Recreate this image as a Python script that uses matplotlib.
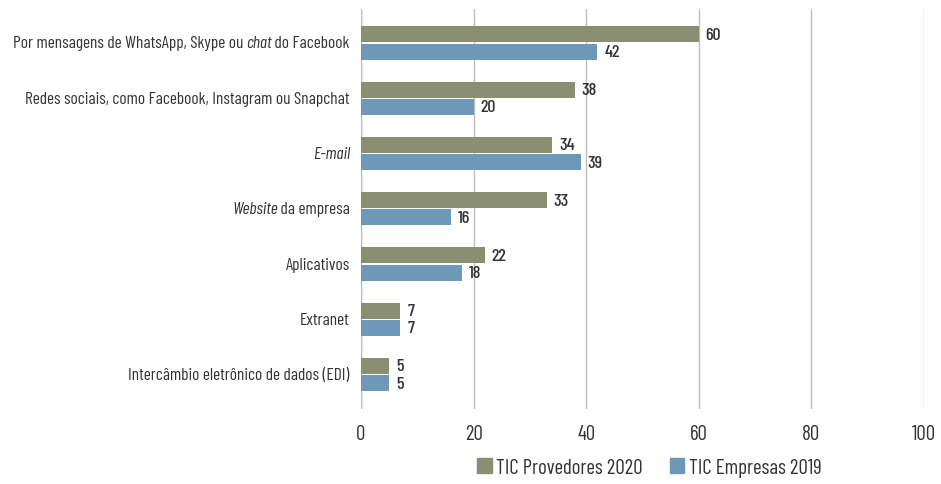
import logging
import numpy as np
import matplotlib.pyplot as plt
from matplotlib import font_manager
from matplotlib.patches import Patch
from matplotlib.transforms import offset_copy

logging.getLogger("matplotlib.font_manager").setLevel(logging.ERROR)

# categories as (text, italic) pieces
categories = [
    [("Por mensagens de WhatsApp, Skype ou ", False), ("chat", True), (" do Facebook", False)],
    [("Redes sociais, como Facebook, Instagram ou Snapchat", False)],
    [("E-mail", True)],
    [("Website", True), (" da empresa", False)],
    [("Aplicativos", False)],
    [("Extranet", False)],
    [("Intercâmbio eletrônico de dados (EDI)", False)],
]
provedores_2020 = [60, 38, 34, 33, 22, 7, 5]
empresas_2019 = [42, 20, 39, 16, 18, 7, 5]
series_names = ["TIC Provedores 2020", "TIC Empresas 2019"]
xticks = [0, 20, 40, 60, 80, 100]

c_olive = "#8a8f72"
c_blue = "#6d98b8"
txt = "#333333"

names = {f.name for f in font_manager.fontManager.ttflist}
FONT = "DejaVu Sans"
for cand in ["Barlow Condensed", "Roboto Condensed", "Roboto"]:
    if cand in names:
        FONT = cand
        break


def main():
    fig = plt.figure(figsize=(9.41, 4.85), dpi=100)
    ax = fig.add_axes([0.3836, 0.155, 0.982 - 0.3836, 0.825])

    y = np.arange(len(categories))
    h = 0.29
    ax.barh(y - h / 2 - 0.01, provedores_2020, height=h, color=c_olive)
    ax.barh(y + h / 2 + 0.01, empresas_2019, height=h, color=c_blue)

    for yi, v in zip(y, provedores_2020):
        ax.text(v + 1.2, yi - h / 2 - 0.01, str(v), va="center", ha="left",
                fontsize=13, fontweight="medium", color=txt, family=FONT)
    for yi, v in zip(y, empresas_2019):
        ax.text(v + 1.2, yi + h / 2 + 0.01, str(v), va="center", ha="left",
                fontsize=13, fontweight="medium", color=txt, family=FONT)

    ax.set_xlim(0, 100)
    ax.set_ylim(len(categories) - 0.38, -0.62)
    ax.set_xticks(xticks)
    ax.set_xticklabels([str(t) for t in xticks], fontsize=15, color=txt, family=FONT)
    ax.set_yticks([])
    ax.tick_params(axis="x", length=0, pad=11)
    ax.grid(axis="x", color="#bfbfbf", linewidth=1)
    ax.set_axisbelow(True)
    for s in ax.spines.values():
        s.set_visible(False)
    ax.axvline(0, color="#bfbfbf", linewidth=1, zorder=0)

    # category labels, drawn piece by piece (right to left) so italics work
    fig.canvas.draw()
    renderer = fig.canvas.get_renderer()
    for yi, pieces in zip(y, categories):
        offset = -8.0
        for text, italic in reversed(pieces):
            tr = offset_copy(ax.get_yaxis_transform(), fig=fig, x=offset, y=0, units="points")
            t = ax.text(0, yi, text, transform=tr, ha="right", va="center",
                        fontsize=12.5, color=txt, family=FONT,
                        style="italic" if italic else "normal")
            bb = t.get_window_extent(renderer)
            offset -= bb.width * 72 / fig.dpi - (0.5 if len(pieces) > 1 else 0)

    handles = [Patch(color=c_olive), Patch(color=c_blue)]
    leg = fig.legend(handles, series_names, loc="center", bbox_to_anchor=(0.69, 0.035),
                     ncol=2, frameon=False, handlelength=0.7, handleheight=0.7,
                     handletextpad=0.2, columnspacing=1.3,
                     prop={"family": FONT, "size": 15})
    for t in leg.get_texts():
        t.set_color(txt)

    plt.savefig("out.png", dpi=100)


if __name__ == "__main__":
    main()
